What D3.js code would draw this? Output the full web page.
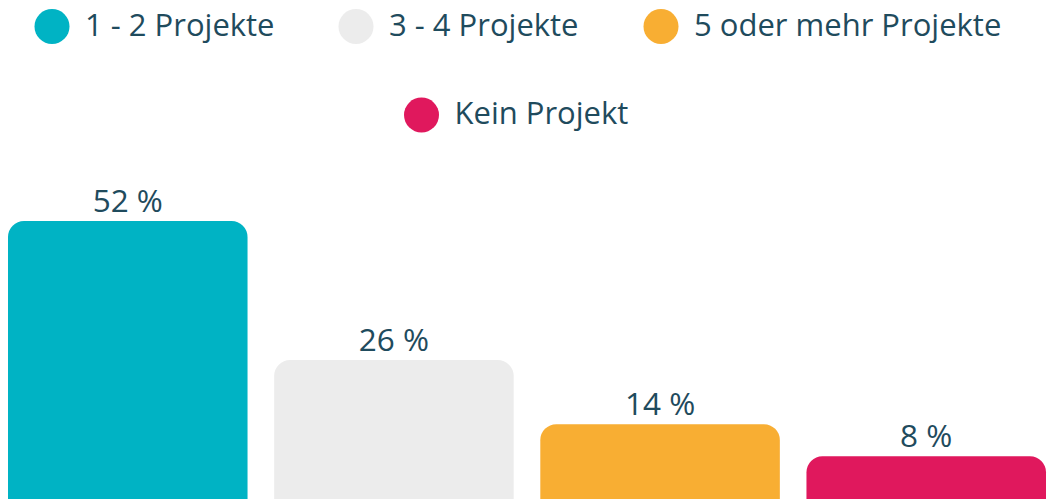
<!DOCTYPE html>
<html>
<head>
<meta charset="utf-8">
<script src="https://cdn.jsdelivr.net/npm/d3@7"></script>
<style>
  body { margin: 0; background: #fff; overflow: hidden; }
  text { font-family: "Open Sans", Lato, sans-serif; fill: #1f4b5d; }
</style>
</head>
<body>
<div id="chart"></div>
<script>
// Data
var categories = ["1 - 2 Projekte", "3 - 4 Projekte", "5 oder mehr Projekte", "Kein Projekt"];
var values = [52, 26, 14, 8];
var colors = ["#00b3c4", "#ececec", "#f8ae33", "#e0185d"];

var width = 1049, height = 499;

var svg = d3.select("#chart").append("svg")
    .attr("width", width)
    .attr("height", height);

var x = d3.scaleBand()
    .domain(categories)
    .range([8, 1046])
    .paddingInner(0.1)
    .paddingOuter(0);

var y = d3.scaleLinear()
    .domain([0, 52])
    .range([499, 221]);

var color = d3.scaleOrdinal().domain(categories).range(colors);

// Bars: rounded top corners, bottom pushed below the page edge
var radius = 16;
svg.selectAll(".bar")
    .data(categories)
    .enter().append("rect")
    .attr("class", "bar")
    .attr("x", function(d) { return x(d); })
    .attr("y", function(d, i) { return y(values[i]); })
    .attr("width", x.bandwidth())
    .attr("height", function(d, i) { return y(0) - y(values[i]) + 40; })
    .attr("rx", radius)
    .style("fill", color);

// Value labels
svg.selectAll(".label")
    .data(categories)
    .enter().append("text")
    .attr("class", "label")
    .attr("x", function(d) { return x(d) + x.bandwidth() / 2; })
    .attr("y", function(d, i) { return y(values[i]) - 9; })
    .attr("text-anchor", "middle")
    .style("font-size", "31.5px")
    .text(function(d, i) { return values[i] + " %"; });

// Legend
var legendPos = [
    {cx: 52, cy: 26.5},
    {cx: 356, cy: 26.5},
    {cx: 661, cy: 26.5},
    {cx: 421.5, cy: 115}
];

var legend = svg.selectAll(".legend")
    .data(categories)
    .enter().append("g")
    .attr("class", "legend")
    .attr("transform", function(d, i) { return "translate(" + legendPos[i].cx + "," + legendPos[i].cy + ")"; });

legend.append("circle")
    .attr("r", 17.5)
    .style("fill", color);

legend.append("text")
    .attr("x", 33)
    .attr("y", 9)
    .style("font-size", "31px")
    .text(function(d) { return d; });
</script>
</body>
</html>
